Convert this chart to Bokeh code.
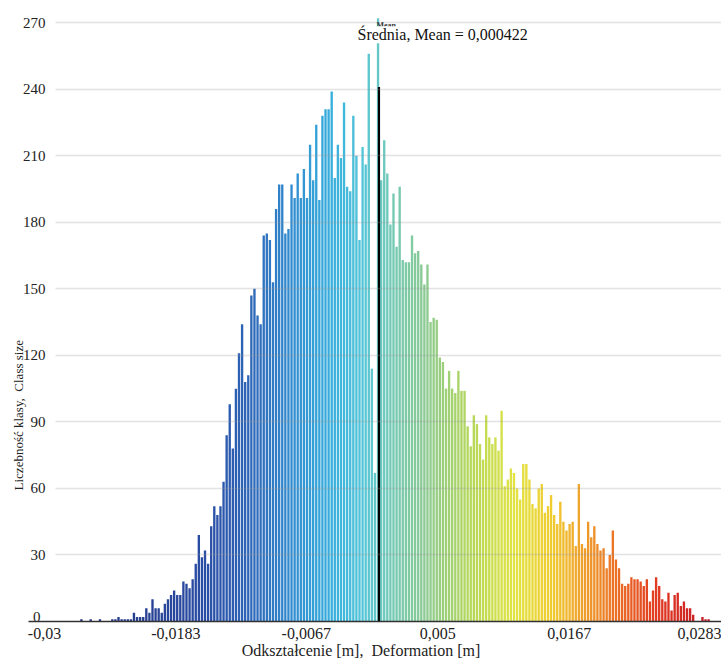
import numpy as np
from bokeh.plotting import figure
from bokeh.models import FixedTicker, Label, ColumnDataSource
from bokeh.core.properties import value
from bokeh.embed import file_html
from bokeh.resources import INLINE

# ---- data ----
counts = [
    1, 0, 0, 1, 0, 0, 1, 0, 0, 0,
    1, 1, 2, 1, 1, 1, 1, 4, 2, 2,
    2, 6, 4, 10, 6, 6, 4, 8, 10, 12,
    14, 12, 12, 18, 17, 15, 19, 26, 39, 29,
    32, 26, 43, 52, 48, 52, 63, 84, 98, 78,
    105, 121, 134, 108, 111, 147, 150, 138, 134, 174,
    175, 172, 153, 186, 197, 197, 175, 177, 197, 191,
    202, 191, 204, 191, 215, 199, 224, 190, 228, 231,
    231, 239, 200, 215, 209, 234, 196, 194, 228, 210,
    172, 214, 206, 256, 114, 67, 272, 199, 217, 202,
    179, 193, 169, 196, 163, 162, 162, 174, 166, 167,
    161, 152, 161, 135, 137, 136, 119, 117, 105, 113,
    105, 103, 113, 104, 104, 88, 79, 93, 89, 80,
    73, 93, 83, 80, 83, 77, 95, 61, 64, 69,
    67, 60, 55, 71, 71, 64, 53, 51, 60, 62,
    49, 52, 57, 48, 44, 54, 45, 41, 44, 45,
    34, 62, 35, 33, 45, 38, 43, 35, 32, 33,
    24, 30, 41, 28, 24, 17, 16, 17, 20, 19,
    19, 18, 16, 19, 9, 14, 20, 16, 10, 9,
    13, 5, 12, 13, 7, 9, 6, 6, 3, 0,
    0, 2, 1, 1,
]
bin_left = -0.02685
bin_width = 0.000275

mean_text = "0,000422"
mean_line_x = -0.00023
mean_line_top = 241

xtick_values = [-0.03, -0.0183, -0.0067, 0.005, 0.0167, 0.0283]
xtick_labels = ["-0,03", "-0,0183", "-0,0067", "0,005", "0,0167", "0,0283"]
ytick_values = [0, 30, 60, 90, 120, 150, 180, 210, 240, 270]
ytick_labels = ["0", "30", "60", "90", "120", "150", "180", "210", "240", "270"]

x_title = "Odkształcenie [m],\u00a0 Deformation [m]"
y_title = "Liczebność klasy,\u00a0 Class size"

# ---- colour ramp (style) ----
stop_pos = [0.0, 0.20, 0.28, 0.34, 0.40, 0.45, 0.48, 0.55, 0.62, 0.69, 0.75, 0.80, 0.86, 0.92, 1.0]
stop_col = ["#263580", "#2a4ea6", "#2f6cbc", "#3390d2", "#38b0de", "#55c6d8", "#6cc9bf",
            "#8dcb92", "#b5d85a", "#e2e442", "#f0cc30", "#f0a02c", "#ea6a24", "#e23a22", "#c41a26"]

def hex2rgb(h):
    return [int(h[i:i + 2], 16) for i in (1, 3, 5)]

rgb = np.array([hex2rgb(c) for c in stop_col], dtype=float)
n = len(counts)
t = np.arange(n) / (n - 1)
cols = []
for ti in t:
    r = np.interp(ti, stop_pos, rgb[:, 0])
    g = np.interp(ti, stop_pos, rgb[:, 1])
    b = np.interp(ti, stop_pos, rgb[:, 2])
    cols.append("#%02x%02x%02x" % (int(r), int(g), int(b)))

centers = bin_left + (np.arange(n) + 0.5) * bin_width
src = ColumnDataSource(dict(x=centers, top=counts, color=cols))

FONT = "Liberation Serif"
PX = 11235.0                      # screen px per data unit (layout helper)
x_start = -0.03 - 44 / PX
x_end = -0.03 + (721 - 44) / PX

p = figure(width=721, height=661, x_range=(x_start, x_end), y_range=(0, 280),
           output_backend="svg", toolbar_location=None, y_axis_location=None,
           min_border_left=0, min_border_right=0, min_border_top=0)
p.outline_line_color = None
p.xgrid.visible = False

p.vbar(x="x", top="top", width=bin_width * 0.76, bottom=0, fill_color="color",
       line_color=None, source=src)

p.ygrid.ticker = FixedTicker(ticks=ytick_values)
p.ygrid.grid_line_color = "#999999"
p.ygrid.grid_line_alpha = 0.28
p.ygrid.grid_line_width = 1.5
p.ygrid.level = "guide"
p.ygrid.cross_bounds = (-0.03 + 11 / PX, x_end)

# mean line
p.segment(x0=[mean_line_x], y0=[0], x1=[mean_line_x], y1=[mean_line_top],
          line_color="black", line_width=2.2)

# x axis
ax = p.xaxis[0]
ax.bounds = (-0.03 - 16 / PX, x_end)
ax.ticker = FixedTicker(ticks=xtick_values)
ax.major_label_overrides = {v: l for v, l in zip(xtick_values, xtick_labels)}
ax.major_tick_line_color = None
ax.minor_tick_line_color = None
ax.axis_line_color = "#333333"
ax.axis_line_width = 1.3
ax.major_label_text_font = FONT
ax.major_label_text_font_size = "16px"
ax.major_label_text_color = "#222222"
ax.major_label_standoff = 0
ax.axis_label = x_title
ax.axis_label_text_font = FONT
ax.axis_label_text_font_size = "16px"
ax.axis_label_text_font_style = "normal"
ax.axis_label_text_color = "#222222"
ax.axis_label_standoff = 0

# y tick labels (drawn as text, right aligned)
ylab_x = -0.03 + 1 / PX
p.text(x=[ylab_x] * (len(ytick_values) - 1), y=ytick_values[1:], text=ytick_labels[1:],
       text_font=value(FONT), text_font_size="15px", text_align="right",
       text_baseline="middle", text_color="#222222")
p.text(x=[ylab_x - 5 / PX], y=ytick_values[:1], text=ytick_labels[:1],
       text_font=value(FONT), text_font_size="15px", text_align="right",
       text_baseline="bottom", text_color="#222222")

# small "Mean" tag partly hidden
p.text(x=[-0.03 + 332 / PX], y=[268.8], text=["Mean"], text_font=value(FONT),
       text_font_size="8px", text_font_style="bold", text_align="left",
       text_baseline="middle", text_color="#333333")

p.add_layout(Label(x=-0.03 + 313 / PX, y=264.6, text="Średnia, Mean = " + mean_text,
                   text_font=FONT, text_font_size="16px", text_baseline="middle",
                   text_align="left", text_color="#111111",
                   background_fill_color="white", background_fill_alpha=1.0))

p.add_layout(Label(x=-0.03 + (18 - 44) / PX, y=93, text=y_title, angle=np.pi / 2,
                   text_font=FONT, text_font_size="13px", text_align="center",
                   text_baseline="middle", text_color="#222222"))

open("out.html", "w").write(file_html(p, INLINE))
